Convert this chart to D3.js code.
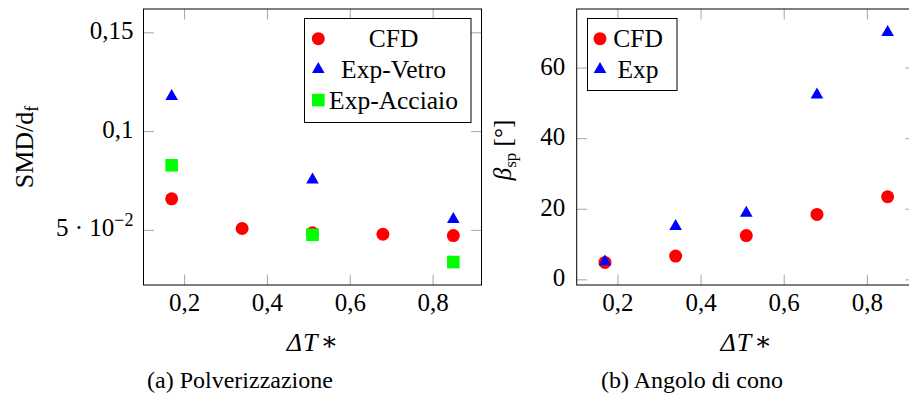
<!DOCTYPE html>
<html>
<head>
<meta charset="utf-8">
<script src="https://cdn.jsdelivr.net/npm/d3@7"></script>
<style>
  body { margin: 0; background: #fff; }
  svg { display: block; font-family: "Liberation Serif", "DejaVu Serif", serif; }
</style>
</head>
<body>
<svg id="fig" width="909" height="394"></svg>
<script>
// ΔT* values shared by both panels
const deltaT = [0.17, 0.34, 0.51, 0.68, 0.85];

// (a) Polverizzazione: SMD/d_f
const smdCfd = [0.0657, 0.0507, 0.0485, 0.0478, 0.0471];
const smdVetroX = [0.17, 0.51, 0.85];
const smdVetro = [0.1176, 0.0753, 0.0553];
const smdAcciaioX = [0.17, 0.51, 0.85];
const smdAcciaio = [0.0827, 0.0475, 0.0337];

// (b) Angolo di cono: beta_sp in degrees
const betaCfd = [4.8, 6.6, 12.4, 18.4, 23.4];
const betaExp = [5.0, 15.0, 18.8, 52.3, 70.0];

// tick values
const xTicks = [0.2, 0.4, 0.6, 0.8];
const smdTicks = [0.05, 0.1, 0.15];
const betaTicks = [0, 20, 40, 60];

const RED = "#ff0000", BLUE = "#0000ff", GREEN = "#00ff00";
const itLocale = d3.formatLocale({ decimal: ",", thousands: ".", grouping: [3], currency: ["", ""] });
const fmtX = itLocale.format(".1f");

const FS_TICK = 25, FS_LEG = 25.5, FS_LAB = 26, FS_CAP = 24;

const svg = d3.select("#fig");
svg.append("rect").attr("width", 909).attr("height", 394).attr("fill", "#fff");

const TICK = 10.5;

// marker shapes
function drawMark(g, kind, cx, cy, color) {
  if (kind === "circle") {
    g.append("circle").attr("cx", cx).attr("cy", cy).attr("r", 6.5).attr("fill", color);
  } else if (kind === "square") {
    g.append("rect").attr("x", cx - 6.3).attr("y", cy - 6.3)
      .attr("width", 12.6).attr("height", 12.6).attr("fill", color);
  } else {
    const r = 7.3, h = r * Math.sqrt(3) / 2;
    g.append("path")
      .attr("d", `M${cx},${cy - r}L${cx + h},${cy + r / 2}L${cx - h},${cy + r / 2}Z`)
      .attr("fill", color);
  }
}

function styleTicks(sel) {
  sel.attr("font-family", null).attr("font-size", FS_TICK);
  sel.select(".domain").remove();
  sel.selectAll(".tick line").attr("stroke", "#808080").attr("stroke-width", 0.7);
  sel.selectAll(".tick text").attr("fill", "#000");
}

function panel(opts) {
  const { x, y, yTicks, yFormat, ylabX } = opts;
  const [x0, x1] = x.range();
  const [y1, y0] = y.range();
  const g = svg.append("g");

  // inward ticks on all four sides
  g.append("g").attr("transform", `translate(0,${y1})`)
    .call(d3.axisBottom(x).tickValues(xTicks).tickSizeInner(-TICK).tickSizeOuter(0).tickFormat(fmtX))
    .call(styleTicks)
    .call(a => a.selectAll("text").attr("y", 25.5).attr("dy", null));
  g.append("g").attr("transform", `translate(0,${y0})`)
    .call(d3.axisTop(x).tickValues(xTicks).tickSizeInner(-TICK).tickSizeOuter(0).tickFormat(""))
    .call(styleTicks);
  g.append("g").attr("transform", `translate(${x0},0)`)
    .call(d3.axisLeft(y).tickValues(yTicks).tickSizeInner(-TICK).tickSizeOuter(0).tickFormat(yFormat))
    .call(styleTicks)
    .call(a => a.selectAll("text").attr("x", -ylabX).attr("dy", null).attr("y", 6.5));
  g.append("g").attr("transform", `translate(${x1},0)`)
    .call(d3.axisRight(y).tickValues(yTicks).tickSizeInner(-TICK).tickSizeOuter(0).tickFormat(""))
    .call(styleTicks);

  // frame
  g.append("rect").attr("x", x0).attr("y", y0).attr("width", x1 - x0).attr("height", y1 - y0)
    .attr("fill", "none").attr("stroke", "#000").attr("stroke-width", 1);
  return g;
}

// ---------- (a) ----------
const xA = d3.scaleLinear().domain([0.102, 0.918]).range([143.5, 481.5]);
const yA = d3.scaleLinear().domain([0.0221, 0.1618]).range([285, 9]);
const gA = panel({
  x: xA, y: yA, yTicks: smdTicks, ylabX: 10,
  yFormat: d => d === 0.05 ? "" : itLocale.format("~g")(d)
});
// 5·10^-2 label with superscript exponent
{
  const t = gA.append("text").attr("x", 133.5).attr("y", yA(0.05) + 6.5)
    .attr("text-anchor", "end").attr("font-size", FS_TICK);
  t.append("tspan").text("5 · 10");
  t.append("tspan").attr("font-size", 18).attr("dy", -10).text("−2");
}
// data marks
const mA = gA.append("g");
deltaT.forEach((d, i) => drawMark(mA, "circle", xA(d), yA(smdCfd[i]), RED));
smdVetroX.forEach((d, i) => drawMark(mA, "triangle", xA(d), yA(smdVetro[i]), BLUE));
smdAcciaioX.forEach((d, i) => drawMark(mA, "square", xA(d), yA(smdAcciaio[i]), GREEN));

// legend (a)
{
  const lg = gA.append("g");
  lg.append("rect").attr("x", 304.5).attr("y", 18.5).attr("width", 166.5).attr("height", 104)
    .attr("fill", "#fff").attr("stroke", "#000").attr("stroke-width", 1);
  const rows = [["circle", RED, "CFD"], ["triangle", BLUE, "Exp-Vetro"], ["square", GREEN, "Exp-Acciaio"]];
  rows.forEach((r, i) => {
    const cy = 38.7 + i * 30.7;
    drawMark(lg, r[0], 318.3, cy, r[1]);
    lg.append("text").attr("x", 393.5).attr("y", cy + 8.4).attr("text-anchor", "middle")
      .attr("font-size", FS_LEG).text(r[2]);
  });
}

// axis labels (a)
{
  const t = svg.append("text").attr("transform", "translate(33,147) rotate(-90)")
    .attr("text-anchor", "middle").attr("font-size", FS_LAB);
  t.append("tspan").text("SMD/d");
  t.append("tspan").attr("font-size", 18).attr("dy", 5).text("f");
}
function deltaLabel(cx) {
  const t = svg.append("text").attr("x", cx).attr("y", 351).attr("text-anchor", "middle").attr("font-size", FS_LAB);
  t.append("tspan").attr("font-style", "italic").text("Δ");
  t.append("tspan").attr("font-style", "italic").attr("dx", 1).text("T");
  t.append("tspan").attr("dx", 3).attr("dy", -1).text("∗");
}
deltaLabel((143.5 + 481.5) / 2);
svg.append("text").attr("x", 240).attr("y", 388).attr("text-anchor", "middle")
  .attr("font-size", FS_CAP).text("(a) Polverizzazione");

// ---------- (b) ----------
const xB = d3.scaleLinear().domain([0.102, 0.918]).range([576.7, 915.9]);
const yB = d3.scaleLinear().domain([-1.6, 76.6]).range([285, 9]);
const gB = panel({
  x: xB, y: yB, yTicks: betaTicks, ylabX: 11.5,
  yFormat: d3.format("d")
});
const mB = gB.append("g");
deltaT.forEach((d, i) => drawMark(mB, "circle", xB(d), yB(betaCfd[i]), RED));
deltaT.forEach((d, i) => drawMark(mB, "triangle", xB(d), yB(betaExp[i]), BLUE));

// legend (b)
{
  const lg = gB.append("g");
  lg.append("rect").attr("x", 587.5).attr("y", 18.5).attr("width", 89.5).attr("height", 72)
    .attr("fill", "#fff").attr("stroke", "#000").attr("stroke-width", 1);
  const rows = [["circle", RED, "CFD"], ["triangle", BLUE, "Exp"]];
  rows.forEach((r, i) => {
    const cy = 38.7 + i * 30.7;
    drawMark(lg, r[0], 600, cy, r[1]);
    lg.append("text").attr("x", 638).attr("y", cy + 8.4).attr("text-anchor", "middle")
      .attr("font-size", FS_LEG).text(r[2]);
  });
}

// axis labels (b)
{
  const t = svg.append("text").attr("transform", "translate(511,150) rotate(-90)")
    .attr("text-anchor", "middle").attr("font-size", 25);
  t.append("tspan").attr("font-style", "italic").text("β");
  t.append("tspan").attr("font-size", 17).attr("dy", 5).text("sp");
  t.append("tspan").attr("dy", -5).text(" [°]");
}
deltaLabel((576.7 + 915.9) / 2);
svg.append("text").attr("x", 692).attr("y", 388).attr("text-anchor", "middle")
  .attr("font-size", FS_CAP).text("(b) Angolo di cono");
</script>
</body>
</html>
